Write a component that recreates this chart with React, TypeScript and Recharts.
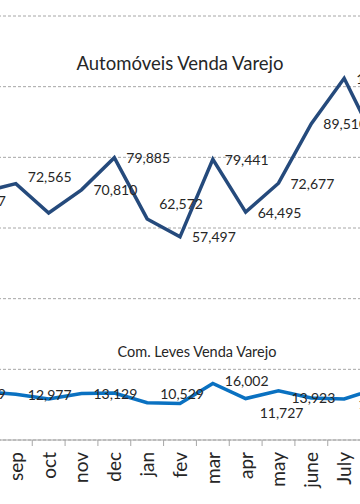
import React from 'react';
import { LineChart, Line, XAxis, YAxis, CartesianGrid, LabelList } from 'recharts';

// months on the x axis (first and last 'aug' are cut off by the crop)
const months = ['aug', 'sep', 'oct', 'nov', 'dec', 'jan', 'fev', 'mar', 'apr', 'may', 'june', 'July', 'aug'];
const automoveis = [70187, 72565, 64250, 70810, 79885, 62572, 57497, 79441, 64495, 72677, 89510, 102356, 83600];
const comLeves = [13589, 12977, 11600, 13129, 13300, 10529, 10300, 16002, 11727, 13923, 11900, 11614, 14600];
const yTicks = [0, 20000, 40000, 60000, 80000, 100000, 120000];

// which points carry a value label
const autoShown = [0, 1, 3, 4, 5, 6, 7, 8, 9, 10, 11];
const levesShown = [0, 1, 3, 5, 7, 8, 9, 11];

// label nudges [dx, dy], default is right of the point
const autoNudge: Record<number, [number, number]> = { 0: [-21, 8], 1: [12, -7], 5: [12, -15] };
const levesNudge: Record<number, [number, number]> = { 0: [-21, 2], 5: [13, -9], 7: [12, -3], 8: [14, 14], 9: [13, 7], 11: [14, 5] };

const data = months.map((m, i) => ({ key: String(i), auto: automoveis[i], leves: comLeves[i] }));

const FONT = 'Lato, "Open Sans", sans-serif';
const STEP = 394 / 12;

const MonthTick = (props: any) => {
  const { x, y, payload } = props;
  const i = Number(payload.value);
  // the two outer 'aug' months fall outside the visible crop
  const visible = i > 0 && i < months.length - 1;
  return (
    <g transform={`translate(${x},${y})`}>
      <line x1={STEP / 2} y1={0} x2={STEP / 2} y2={6} stroke="#a6a6a6" strokeWidth={1} />
      {visible && (
        <text
          transform="rotate(-90)"
          x={-12}
          y={0}
          dy="0.36em"
          textAnchor="end"
          fontSize={19}
          fontFamily={FONT}
          fill="#262626"
        >
          {months[i]}
        </text>
      )}
    </g>
  );
};

const makeLabel = (series: number[], shown: number[], nudge: Record<number, [number, number]>) => (props: any) => {
  const { x, y, value } = props;
  const index = props.index ?? series.indexOf(Number(value));
  if (!shown.includes(index)) return null;
  const [dx, dy] = nudge[index] ?? [12, 0];
  return (
    <text
      x={Number(x) + dx}
      y={Number(y) + dy}
      dominantBaseline="central"
      fontSize={14}
      fontFamily={FONT}
      fill="#262626"
    >
      {Number(value).toLocaleString('en-US')}
    </text>
  );
};

export default function App() {
  return (
    <div style={{ position: 'absolute', left: 0, top: 0, width: 360, height: 504, overflow: 'hidden', background: '#fff' }}>
      <div style={{ position: 'absolute', left: -17, top: 0 }}>
        <LineChart width={394} height={504} data={data} margin={{ top: 16, right: 0, bottom: 0, left: 0 }}>
          <CartesianGrid vertical={false} stroke="#a6a6a6" strokeDasharray="3 2" />
          <XAxis
            dataKey="key"
            height={64}
            interval={0}
            tickSize={0}
            tickMargin={0}
            tickLine={false}
            axisLine={{ stroke: '#a6a6a6' }}
            tick={<MonthTick />}
          />
          <YAxis hide domain={[0, 120000]} ticks={yTicks} />
          <Line
            type="linear"
            dataKey="auto"
            stroke="#254a7c"
            strokeWidth={3.5}
            dot={false}
            isAnimationActive={false}
          >
            <LabelList dataKey="auto" content={makeLabel(automoveis, autoShown, autoNudge)} />
          </Line>
          <Line
            type="linear"
            dataKey="leves"
            stroke="#0a71c1"
            strokeWidth={3.5}
            dot={false}
            isAnimationActive={false}
          >
            <LabelList dataKey="leves" content={makeLabel(comLeves, levesShown, levesNudge)} />
          </Line>
        </LineChart>
      </div>
      <div style={{ position: 'absolute', left: 0, width: 360, top: 51, textAlign: 'center', fontFamily: FONT, fontSize: 18.5, color: '#262626', lineHeight: '24px' }}>
        Automóveis Venda Varejo
      </div>
      <div style={{ position: 'absolute', left: 17, width: 360, top: 343, textAlign: 'center', fontFamily: FONT, fontSize: 14.5, color: '#262626', lineHeight: '18px' }}>
        Com. Leves Venda Varejo
      </div>
    </div>
  );
}
